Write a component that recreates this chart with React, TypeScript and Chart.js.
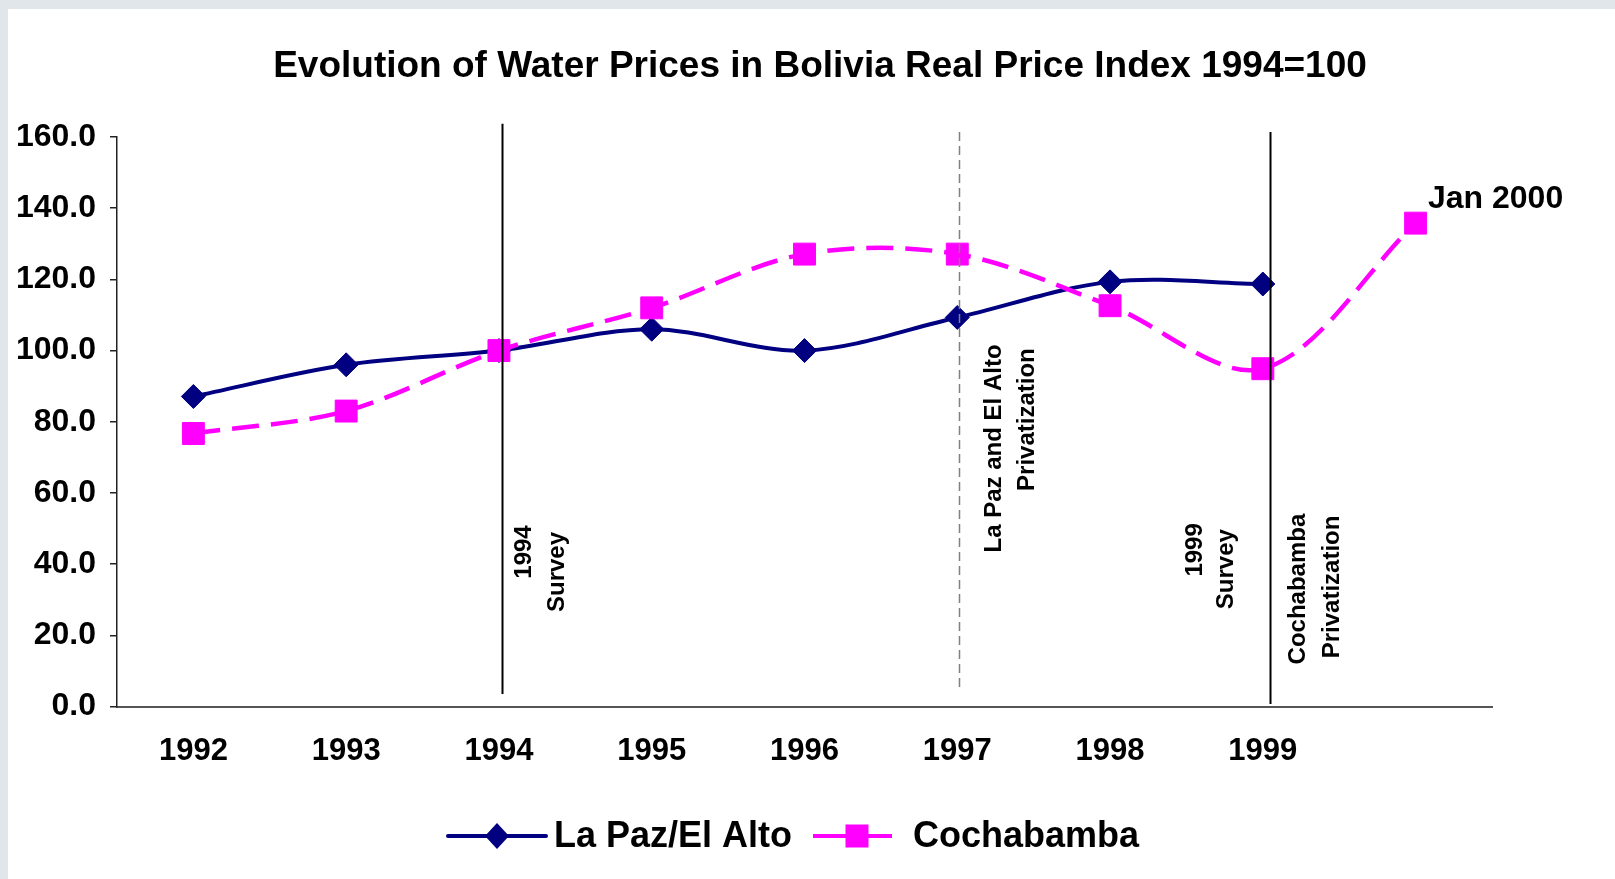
import React, { useEffect, useRef } from 'react';
import { Chart, registerables } from 'chart.js';

Chart.register(...registerables);

// ---------- data ----------
const years = ['1992', '1993', '1994', '1995', '1996', '1997', '1998', '1999', ''];
const laPazValues: (number | null)[] = [87.1, 96.0, 100.0, 106.0, 100.0, 109.3, 119.3, 118.7, null];
const cochabambaValues: (number | null)[] = [76.7, 83.0, 100.0, 112.0, 127.1, 127.1, 112.6, 94.9, 135.8];
const seriesNames = ['La Paz/El Alto', 'Cochabamba'];
const chartTitle = 'Evolution of Water Prices in Bolivia Real Price Index 1994=100';

// event markers: category position (index), from value, to value
const eventAt = [2.02, 5.011, 7.047];
const eventFrom = [3.5, 5.2, 0.7];
const eventTo = [163.7, 161.4, 161.4];

// rotated event notes: text, category position, value position
const noteTexts = ['1994', 'Survey', 'La Paz and El Alto', 'Privatization', '1999', 'Survey', 'Cochabamba', 'Privatization'];
const noteAt = [2.164, 2.38, 5.24, 5.456, 6.556, 6.759, 7.23, 7.452];
const noteValue = [43.4, 37.8, 72.5, 80.6, 44.0, 38.6, 33.0, 33.6];

const endNote = 'Jan 2000';
const endNoteAt = 8.081;
const endNoteValue = 140.1;

const FONT = '"Liberation Sans", Arial, Helvetica, sans-serif';
const NAVY = '#000080';
const MAGENTA = '#FF00FF';

const overlayPlugin = {
  id: 'overlay',
  afterDatasetsDraw(chart: any) {
    const { ctx } = chart;
    const x = chart.scales.x;
    const y = chart.scales.y;
    ctx.save();
    // event lines
    const styles = [
      { color: '#000000', width: 2, dash: [] as number[] },
      { color: '#808080', width: 1.5, dash: [9, 5] },
      { color: '#000000', width: 2, dash: [] as number[] },
    ];
    eventAt.forEach((at, i) => {
      const px = Math.round(x.getPixelForValue(at)) + 0.5;
      ctx.beginPath();
      ctx.strokeStyle = styles[i].color;
      ctx.lineWidth = styles[i].width;
      ctx.setLineDash(styles[i].dash);
      ctx.moveTo(px, y.getPixelForValue(eventTo[i]));
      ctx.lineTo(px, y.getPixelForValue(eventFrom[i]));
      ctx.stroke();
    });
    ctx.setLineDash([]);
    // rotated notes
    ctx.fillStyle = '#000';
    ctx.font = `bold 24px ${FONT}`;
    ctx.textAlign = 'center';
    ctx.textBaseline = 'middle';
    noteTexts.forEach((t, i) => {
      ctx.save();
      ctx.translate(x.getPixelForValue(noteAt[i]), y.getPixelForValue(noteValue[i]));
      ctx.rotate(-Math.PI / 2);
      ctx.fillText(t, 0, 0);
      ctx.restore();
    });
    // end note
    ctx.font = `bold 32px ${FONT}`;
    ctx.textAlign = 'left';
    ctx.textBaseline = 'alphabetic';
    ctx.fillText(endNote, x.getPixelForValue(endNoteAt), y.getPixelForValue(endNoteValue));
    ctx.restore();
  },
  afterDraw(chart: any) {
    const { ctx } = chart;
    ctx.save();
    // title
    ctx.fillStyle = '#000';
    ctx.font = `bold 37px ${FONT}`;
    ctx.textAlign = 'center';
    ctx.textBaseline = 'alphabetic';
    ctx.fillText(chartTitle, 812, 67.5);

    // legend
    const ds = chart.data.datasets;
    const lineY = 827;
    const baseY = 837.7;
    ctx.font = `bold 36px ${FONT}`;
    ctx.textAlign = 'left';
    // item 1
    ctx.strokeStyle = ds[0].borderColor;
    ctx.lineWidth = 4;
    ctx.lineCap = 'round';
    ctx.beginPath();
    ctx.moveTo(440, lineY);
    ctx.lineTo(538, lineY);
    ctx.stroke();
    ctx.fillStyle = ds[0].backgroundColor;
    ctx.beginPath();
    ctx.moveTo(489 - 12, lineY);
    ctx.lineTo(489, lineY - 13);
    ctx.lineTo(489 + 12, lineY);
    ctx.lineTo(489, lineY + 13);
    ctx.closePath();
    ctx.fill();
    ctx.fillStyle = '#000';
    ctx.fillText(ds[0].label, 546, baseY);
    // item 2
    ctx.strokeStyle = ds[1].borderColor;
    ctx.lineCap = 'butt';
    ctx.beginPath();
    ctx.moveTo(805, lineY);
    ctx.lineTo(884, lineY);
    ctx.stroke();
    ctx.fillStyle = ds[1].backgroundColor;
    ctx.fillRect(849 - 11.5, lineY - 11.5, 23, 23);
    ctx.fillStyle = '#000';
    ctx.fillText(ds[1].label, 905, baseY);
    ctx.restore();
  },
};

export default function App() {
  const canvasRef = useRef<HTMLCanvasElement | null>(null);

  useEffect(() => {
    if (!canvasRef.current) return;
    const chart = new Chart(canvasRef.current, {
      type: 'line',
      data: {
        labels: years,
        datasets: [
          {
            label: seriesNames[0],
            data: laPazValues,
            borderColor: NAVY,
            backgroundColor: NAVY,
            borderWidth: 4,
            pointStyle: 'rectRot',
            pointRadius: 12,
            pointBorderWidth: 1,
            pointBackgroundColor: NAVY,
            pointBorderColor: NAVY,
            tension: 0.33,
            spanGaps: false,
            order: 1,
          },
          {
            label: seriesNames[1],
            data: cochabambaValues,
            borderColor: MAGENTA,
            backgroundColor: MAGENTA,
            borderWidth: 4.5,
            borderDash: [27, 12],
            pointStyle: 'rect',
            pointRadius: 15.5,
            pointBorderWidth: 1,
            pointBackgroundColor: MAGENTA,
            pointBorderColor: MAGENTA,
            tension: 0.33,
            order: 0,
          },
        ],
      },
      options: {
        responsive: false,
        animation: false,
        devicePixelRatio: 1,
        layout: { padding: { top: 128, right: 123, bottom: 72.5, left: 0 } },
        plugins: {
          legend: { display: false },
          title: { display: false },
          tooltip: { enabled: false },
        },
        events: [],
        scales: {
          x: {
            type: 'category',
            offset: true,
            grid: { display: false, drawTicks: false, tickLength: 0, offset: true },
            border: { display: true, color: '#555555', width: 2 },
            ticks: {
              color: '#000',
              font: { family: FONT, size: 31, weight: 'bold' },
              padding: 26,
              maxRotation: 0,
              autoSkip: false,
            },
            afterFit: (s: any) => {
              s.height = 100;
            },
          },
          y: {
            min: 0,
            max: 160,
            grid: { drawOnChartArea: false, drawTicks: true, tickLength: 7, color: '#222', lineWidth: 1.5 },
            border: { display: true, color: '#222', width: 1.5 },
            ticks: {
              stepSize: 20,
              color: '#000',
              font: { family: FONT, size: 32, weight: 'bold' },
              padding: 14,
              callback: (v: any) => Number(v).toFixed(1),
            },
            afterFit: (s: any) => {
              s.width = 109;
            },
          },
        },
      },
      plugins: [overlayPlugin],
    });
    return () => chart.destroy();
  }, []);

  return (
    <div
      style={{
        position: 'absolute',
        left: 0,
        top: 0,
        width: 1615,
        height: 879,
        background: '#e1e6eb',
        overflow: 'hidden',
      }}
    >
      <canvas
        ref={canvasRef}
        width={1607}
        height={870}
        style={{ position: 'absolute', left: 8, top: 9, width: 1607, height: 870, background: '#ffffff', display: 'block' }}
      />
    </div>
  );
}
